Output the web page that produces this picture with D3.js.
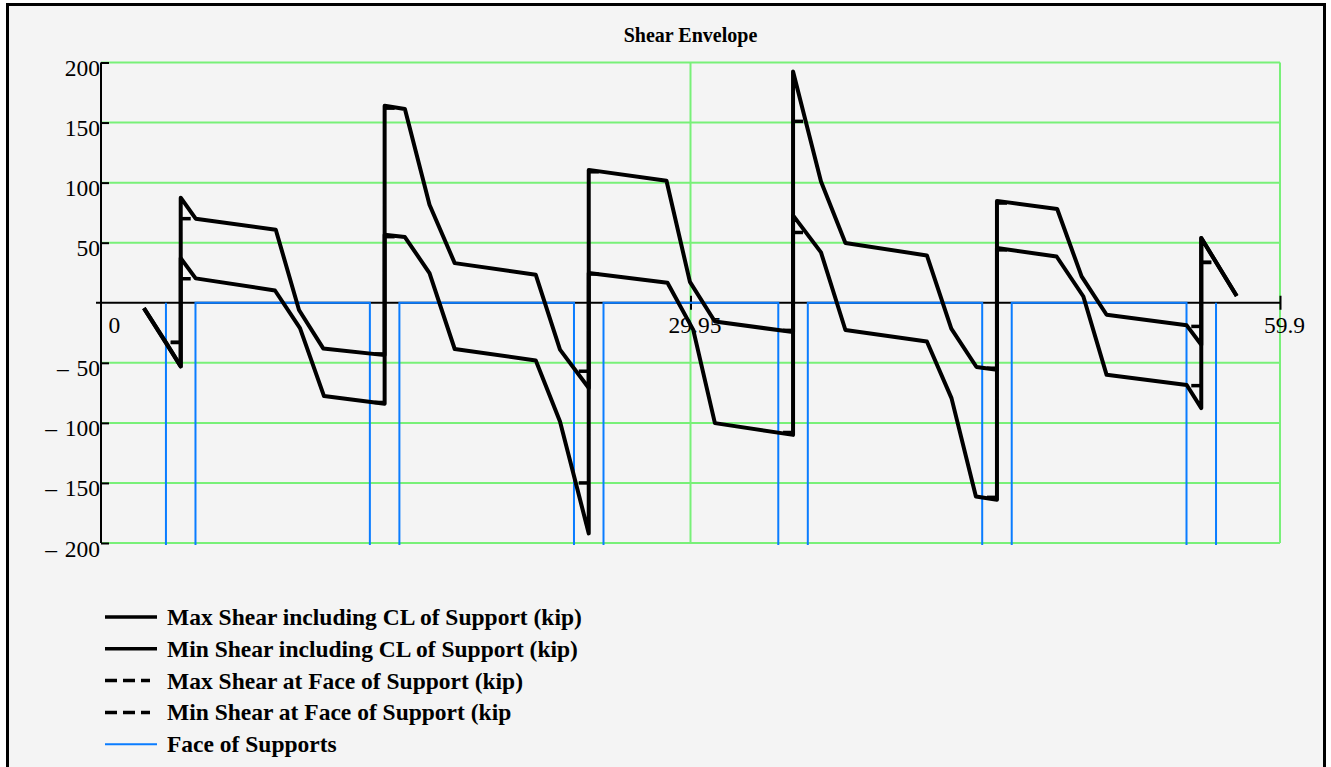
<!DOCTYPE html>
<html>
<head>
<meta charset="utf-8">
<script src="https://cdn.jsdelivr.net/npm/d3@7"></script>
<style>
  html, body { margin: 0; padding: 0; background: #ffffff; }
  svg { display: block; }
  text { font-family: "Liberation Serif", "Times New Roman", serif; fill: #000; }
</style>
</head>
<body>
<svg id="chart" width="1331" height="767"></svg>
<script>
// Beam position along the girder (ft) and shear envelope values (kip)
const maxShearX = [2.18, 3.30, 4.05, 4.05, 4.81, 8.88, 10.06, 11.29, 14.41,
  14.41, 15.44, 16.69, 17.97, 22.09, 23.32, 24.78,
  24.78, 28.73, 29.92, 31.19, 35.16,
  35.16, 36.58, 37.82, 41.96, 43.20, 44.48, 45.52,
  45.52, 48.58, 49.82, 51.09, 55.16, 55.90,
  55.90, 57.70];
const maxShearV = [-4.5, -33, -53, 87.5, 70, 60.8, -6, -38, -43.6,
  164, 161.3, 81.6, 33, 23.3, -39, -71,
  110.6, 101.5, 17.4, -15.6, -24.4,
  192.6, 101, 49.7, 39.4, -21.5, -53.5, -55.8,
  84.8, 78, 21.9, -10, -18.8, -35,
  53.9, 5.6];

const minShearX = [2.18, 4.05, 4.05, 4.81, 8.84, 10.11, 11.33, 14.41,
  14.41, 15.44, 16.69, 17.97, 22.09, 23.32, 24.78,
  24.78, 28.78, 30.09, 31.19, 35.16,
  35.16, 36.58, 37.82, 41.96, 43.21, 44.45, 45.52,
  45.52, 48.55, 49.91, 51.09, 55.16, 55.90,
  55.90, 57.70];
const minShearV = [-4.5, -53, 37.2, 20.3, 10.2, -21.1, -77.7, -84,
  56.6, 54.7, 24.7, -38.5, -48, -98.8, -192,
  24.7, 16.6, -22.6, -100.2, -110,
  72.7, 41.9, -22.7, -32.2, -79.4, -161.3, -164,
  45.5, 38.5, 5.2, -60, -68.5, -87.7,
  53.9, 5.6];

// Support centerlines and faces (ft)
const supportCenters = [4.05, 14.41, 24.78, 35.16, 45.52, 55.90];
const supportFacesLeft = [3.30, 13.66, 24.03, 34.41, 44.77, 55.15];
const supportFacesRight = [4.80, 15.16, 25.53, 35.91, 46.27, 56.65];

// Shear at the face of each support, left face / right face (kip)
const maxFaceLeft = [-33, -42.6, -57, -23, -54.5, -19.7];
const maxFaceRight = [70, 162, 109, 151, 83, 33.6];
const minFaceLeft = [-33, -83, -150, -108, -162, -69];
const minFaceRight = [20, 55, 24, 58.5, 44, 33.6];

// Face-of-support marker drops below the plotted range
const faceMarkerLevel = -260;

const xTicks = [0, 29.95, 59.9];
const xTickLabels = ["0", "29.95", "59.9"];
const yTicks = [-200, -150, -100, -50, 50, 100, 150, 200];
const yTickLabels = ["\u2013\u2004200", "\u2013\u2004150", "\u2013\u2004100", "\u2013\u200450",
  "50", "100", "150", "200"];

const legendLabels = [
  "Max Shear including CL of Support (kip)",
  "Min Shear including CL of Support (kip)",
  "Max Shear at Face of Support (kip)",
  "Min Shear at Face of Support (kip",
  "Face of Supports"
];

const svg = d3.select("#chart");

// Frame and panel background
svg.append("rect")
  .attr("x", 7.5).attr("y", 4.5)
  .attr("width", 1317).attr("height", 800)
  .attr("fill", "#f4f4f4")
  .attr("stroke", "#000").attr("stroke-width", 3);

const plot = { left: 101, right: 1280, top: 62.5, bottom: 543 };
const x = d3.scaleLinear().domain([0, 59.9]).range([plot.left, plot.right]);
const y = d3.scaleLinear().domain([-200, 200]).range([plot.bottom, plot.top]);

svg.append("defs").append("clipPath").attr("id", "plotClip")
  .append("rect")
  .attr("x", plot.left).attr("y", plot.top)
  .attr("width", plot.right - plot.left).attr("height", plot.bottom - plot.top + 2);

// Title
svg.append("text")
  .attr("x", (plot.left + plot.right) / 2).attr("y", 42)
  .attr("text-anchor", "middle")
  .attr("font-size", 20).attr("font-weight", "bold")
  .text("Shear Envelope");

const grid = "#78f078";

// Horizontal grid lines
svg.append("g").selectAll("line").data(yTicks).join("line")
  .attr("x1", plot.left).attr("x2", plot.right)
  .attr("y1", d => y(d)).attr("y2", d => y(d))
  .attr("stroke", grid).attr("stroke-width", 2);

// Vertical grid lines (non-zero x ticks)
svg.append("g").selectAll("line").data(xTicks.filter(d => d > 0)).join("line")
  .attr("x1", d => x(d)).attr("x2", d => x(d))
  .attr("y1", plot.top).attr("y2", plot.bottom)
  .attr("stroke", grid).attr("stroke-width", 2);

// Y axis
const yAxis = d3.axisLeft(y).tickValues(yTicks).tickSize(-8).tickPadding(0)
  .tickFormat((d, i) => yTickLabels[i]);
const yG = svg.append("g").attr("transform", `translate(${plot.left},0)`).call(yAxis);
yG.select(".domain").attr("stroke", "#000").attr("stroke-width", 2)
  .attr("d", `M0,${plot.top}V${plot.bottom}`);
yG.selectAll(".tick line").attr("stroke", "#000").attr("stroke-width", 2);
yG.selectAll(".tick text")
  .attr("font-family", "'Liberation Serif', 'Times New Roman', serif")
  .attr("font-size", 23.5).attr("x", -1).attr("dy", 13)
  .attr("text-anchor", "end");

// X axis along zero shear
const xAxis = d3.axisBottom(x).tickValues(xTicks).tickSize(7).tickPadding(0)
  .tickFormat((d, i) => xTickLabels[i]);
const xG = svg.append("g").attr("transform", `translate(0,${y(0)})`).call(xAxis);
xG.select(".domain").attr("stroke", "#000").attr("stroke-width", 2)
  .attr("d", `M${plot.left - 5},0H${plot.right}`);
xG.selectAll(".tick line").attr("stroke", "#000").attr("stroke-width", 2)
  .attr("y1", -7).attr("y2", 7)
  .style("display", d => d === 0 ? "none" : null);
xG.selectAll(".tick text")
  .attr("font-family", "'Liberation Serif', 'Times New Roman', serif")
  .attr("font-size", 23.5).attr("y", 30).attr("dy", 0)
  .attr("text-anchor", d => d === 0 ? "start" : "middle")
  .attr("dx", d => d === 0 ? 7 : 4);

// Face of supports trace
const facePts = [];
supportCenters.forEach((c, i) => {
  facePts.push([supportFacesLeft[i], 0]);
  facePts.push([supportFacesLeft[i], faceMarkerLevel]);
  facePts.push([supportFacesRight[i], faceMarkerLevel]);
  facePts.push([supportFacesRight[i], 0]);
});
const line = d3.line().x(d => x(d[0])).y(d => y(d[1]));
svg.append("path")
  .attr("clip-path", "url(#plotClip)")
  .attr("d", line(facePts))
  .attr("fill", "none").attr("stroke", "#0a7cff").attr("stroke-width", 2);

// Shear at face of support (dashed, from centerline to face)
const faceSeg = [];
supportCenters.forEach((c, i) => {
  faceSeg.push([[c, maxFaceLeft[i]], [supportFacesLeft[i], maxFaceLeft[i]]]);
  faceSeg.push([[c, maxFaceRight[i]], [supportFacesRight[i], maxFaceRight[i]]]);
  faceSeg.push([[c, minFaceLeft[i]], [supportFacesLeft[i], minFaceLeft[i]]]);
  faceSeg.push([[c, minFaceRight[i]], [supportFacesRight[i], minFaceRight[i]]]);
});
svg.append("g").selectAll("path").data(faceSeg).join("path")
  .attr("d", d => line(d))
  .attr("fill", "none").attr("stroke", "#000").attr("stroke-width", 3.5)
  .attr("stroke-dasharray", "10,6");

// Envelope curves
const maxPts = maxShearX.map((v, i) => [v, maxShearV[i]]);
const minPts = minShearX.map((v, i) => [v, minShearV[i]]);
[maxPts, minPts].forEach(pts => {
  svg.append("path")
    .attr("d", line(pts))
    .attr("fill", "none").attr("stroke", "#000").attr("stroke-width", 4)
    .attr("stroke-linejoin", "round");
});

// Legend
const legend = svg.append("g");
const legendStyles = [
  { color: "#000", width: 3.5, dash: null },
  { color: "#000", width: 3.5, dash: null },
  { color: "#000", width: 3.5, dash: "12,6" },
  { color: "#000", width: 3.5, dash: "12,6" },
  { color: "#0a7cff", width: 2, dash: null }
];
legendLabels.forEach((label, i) => {
  const ly = 617 + i * 31.8;
  const st = legendStyles[i];
  legend.append("line")
    .attr("x1", 105).attr("x2", st.dash ? 150 : 157)
    .attr("y1", ly).attr("y2", ly)
    .attr("stroke", st.color).attr("stroke-width", st.width)
    .attr("stroke-dasharray", st.dash);
  legend.append("text")
    .attr("x", 167).attr("y", ly + 8)
    .attr("font-size", 23.5).attr("font-weight", "bold")
    .text(label);
});
</script>
</body>
</html>
